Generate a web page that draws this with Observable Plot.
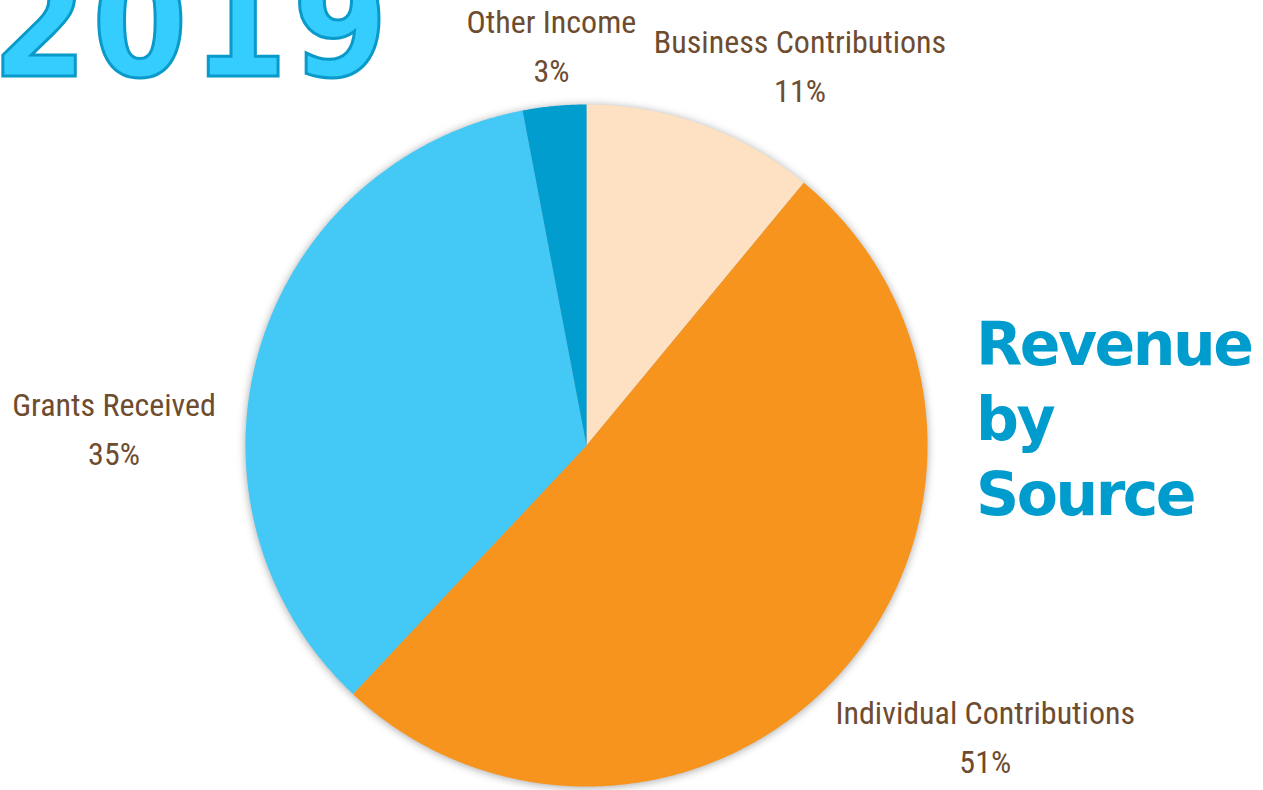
<!DOCTYPE html>
<html><head><meta charset="utf-8">
<script src="https://cdn.jsdelivr.net/npm/d3@7"></script>
<script src="https://cdn.jsdelivr.net/npm/@observablehq/plot@0.6"></script>
<style>
html,body{margin:0;padding:0;background:#fff;overflow:hidden}
#wrap{position:relative;width:1263px;height:790px}
#wrap svg{position:absolute;left:0;top:0}
#year{position:absolute;left:-8px;top:-52px;font-family:"DejaVu Sans Condensed","DejaVu Sans";font-stretch:condensed;font-weight:900;font-size:152px;line-height:1;color:#35CDFE;-webkit-text-stroke:3px #0A9AC9;letter-spacing:5px;white-space:nowrap}
#title{position:absolute;left:976px;top:307px;font:bold 60px/75px "DejaVu Sans";color:#009CCD;letter-spacing:-2.5px}
svg g[aria-label="line"]{filter:drop-shadow(0 1px 4px rgba(0,0,0,0.35))}
</style></head><body><div id="wrap"></div>
<script>
// ---- data ----
const categories = ["Business Contributions", "Individual Contributions", "Grants Received", "Other Income"];
const shares = [11, 51, 35, 3];
const colors = ["#FDE1C2", "#F7941D", "#44C8F5", "#019DCE"];

// ---- layout (label nudges in px from the slice's outer mid point) ----
const labelNudge = [[98, -63], [143, 62], [-145, 74], [-3, -64]];
const R = 341;

const slices = categories.map((name, i) => ({name, share: shares[i]}));
const arcs = d3.pie().sort(null).value(d => d.share)(slices);

const pts = [];
arcs.forEach(a => {
  pts.push({name: a.data.name, x: 0, y: 0});
  const n = Math.max(2, Math.ceil((a.endAngle - a.startAngle) / 0.005));
  for (let k = 0; k <= n; k++) {
    const t = a.startAngle + (a.endAngle - a.startAngle) * k / n;
    pts.push({name: a.data.name, x: Math.sin(t), y: Math.cos(t)});
  }
});

const labels = arcs.map((a, i) => {
  const m = (a.startAngle + a.endAngle) / 2;
  return {
    text: `${a.data.name}\n${a.data.share}%`,
    x: Math.sin(m) + labelNudge[i][0] / R,
    y: Math.cos(m) - labelNudge[i][1] / R
  };
});

const chart = Plot.plot({
  width: 1263, height: 790, margin: 0,
  x: {domain: [-1, 1], range: [586 - R, 586 + R], axis: null},
  y: {domain: [-1, 1], range: [445 + R, 445 - R], axis: null},
  color: {domain: categories, range: colors},
  marks: [
    Plot.line(pts, {x: "x", y: "y", z: "name", fill: "name", stroke: "none", curve: "linear"}),
    Plot.text(labels, {x: "x", y: "y", text: "text", lineHeight: 1.53, fontSize: 32,
      fontFamily: "'Roboto Condensed','Liberation Sans Narrow',Roboto,sans-serif", fill: "#6E4C30", textAnchor: "middle"})
  ]
});
const wrap = document.getElementById("wrap");
wrap.appendChild(chart);
const y = document.createElement("div"); y.id = "year"; y.textContent = "2019"; wrap.appendChild(y);
const t = document.createElement("div"); t.id = "title"; t.innerHTML = "Revenue<br>by<br>Source"; wrap.appendChild(t);
</script></body></html>
